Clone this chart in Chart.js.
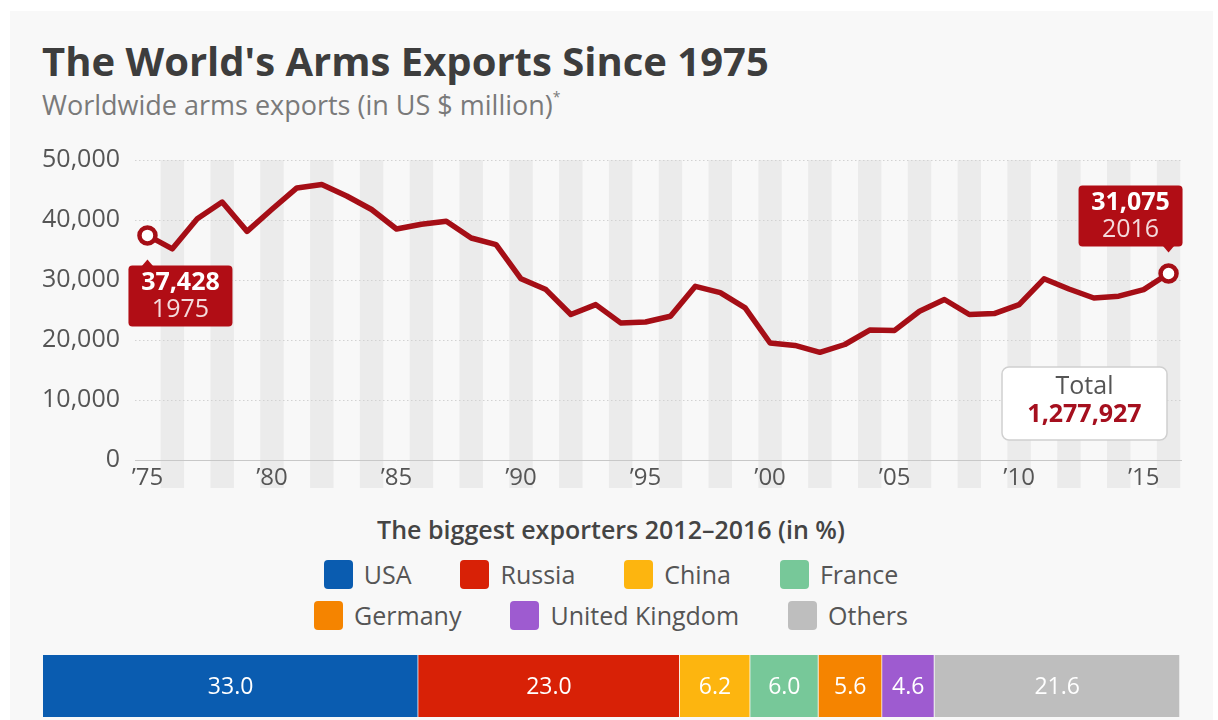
<!DOCTYPE html>
<html>
<head>
<meta charset="utf-8">
<title>The World's Arms Exports Since 1975</title>
<script src="https://cdn.jsdelivr.net/npm/chart.js@4.4.1/dist/chart.umd.min.js"></script>
<style>
  html, body { margin: 0; padding: 0; background: #fff; }
  body { width: 1218px; height: 720px; position: relative; overflow: hidden; font-family: "Open Sans", sans-serif; }
  .panel { position: absolute; left: 10px; top: 11px; width: 1203px; height: 720px; background: #f8f8f8; }
  .title { position: absolute; left: 42px; top: 41px; font-size: 40px; line-height: 1; font-weight: 700; color: #3d3d3d; white-space: nowrap; }
  .subtitle { position: absolute; left: 42px; top: 91px; font-size: 27px; line-height: 1; color: #7a7a7a; white-space: nowrap; }
  .subtitle sup { font-size: 14px; vertical-align: top; position: relative; top: -1px; }
  #trend { position: absolute; left: 0; top: 0; }
  .legend-title { position: absolute; left: 0; width: 1222px; top: 517px; text-align: center; font-size: 25px; line-height: 1; font-weight: 600; color: #444; }
  .legend-row { position: absolute; left: 0; width: 1222px; height: 29px; display: flex; justify-content: center; gap: 49px; }
  .legend-item { display: flex; align-items: center; font-size: 25px; line-height: 29px; color: #555; white-space: nowrap; }
  .swatch { width: 29px; height: 29px; border-radius: 4px; margin-right: 11px; }
  #shares { position: absolute; left: 0; top: 640px; }
</style>
</head>
<body>
<div class="panel"></div>
<div class="title">The World's Arms Exports Since 1975</div>
<div class="subtitle">Worldwide arms exports (in US $ million)<sup>*</sup></div>
<canvas id="trend" width="1218" height="500"></canvas>
<div class="legend-title">The biggest exporters 2012–2016 (in %)</div>
<div class="legend-row" id="legendRow1" style="top:560px"></div>
<div class="legend-row" id="legendRow2" style="top:601px"></div>
<canvas id="shares" width="1218" height="80"></canvas>

<script>
// yearly worldwide arms exports, US$ million
const years = [1975, 1976, 1977, 1978, 1979, 1980, 1981, 1982, 1983, 1984,
  1985, 1986, 1987, 1988, 1989, 1990, 1991, 1992, 1993, 1994,
  1995, 1996, 1997, 1998, 1999, 2000, 2001, 2002, 2003, 2004,
  2005, 2006, 2007, 2008, 2009, 2010, 2011, 2012, 2013, 2014,
  2015, 2016];
const armsExports = [37428, 35200, 40200, 43000, 38100, 41800, 45350, 45900, 44000, 41750,
  38500, 39300, 39800, 37000, 35900, 30200, 28400, 24250, 25900, 22850,
  23000, 23950, 28950, 27900, 25350, 19500, 19100, 17950, 19250, 21650,
  21600, 24800, 26750, 24250, 24400, 25900, 30200, 28500, 27000, 27300,
  28400, 31075];
const yTicks = [0, 10000, 20000, 30000, 40000, 50000];
const xTicks = [1975, 1980, 1985, 1990, 1995, 2000, 2005, 2010, 2015];
const totalExports = "1,277,927";

// shares of the biggest exporters 2012-2016, %
const exporters = ["USA", "Russia", "China", "France", "Germany", "United Kingdom", "Others"];
const exporterShares = [33.0, 23.0, 6.2, 6.0, 5.6, 4.6, 21.6];
const exporterColors = ["#0a5cb0", "#d82106", "#fdb50f", "#77c899", "#f58400", "#9e5bd0", "#bebebe"];

const RED = "#a50e16";
const BOX_RED = "#b10d15";
const fmt = v => v.toLocaleString("en-US");

Chart.defaults.font.family = '"Open Sans", sans-serif';
Chart.defaults.color = "#555";

// grey bands behind every second year
const stripes = {
  id: "stripes",
  beforeDraw(chart) {
    const { ctx, chartArea } = chart;
    const x = chart.scales.x;
    ctx.save();
    ctx.fillStyle = "#ebebeb";
    years.filter(y => y % 2 === 0).forEach(y => {
      const l = x.getPixelForValue(y - 0.47);
      const r = x.getPixelForValue(y + 0.47);
      ctx.fillRect(l, chartArea.top, r - l, chartArea.bottom + 28 - chartArea.top);
    });
    ctx.restore();
  }
};

function roundBox(ctx, x, y, w, h, r) {
  ctx.beginPath();
  ctx.roundRect(x, y, w, h, r);
}

function drawCallout(ctx, pt, dx, dy, up, value, year) {
  const w = 104, h = 61;
  const left = pt.x + dx, top = pt.y + dy;
  ctx.fillStyle = BOX_RED;
  roundBox(ctx, left, top, w, h, 4);
  ctx.fill();
  ctx.beginPath();
  if (up) {
    ctx.moveTo(pt.x - 6, top + 1);
    ctx.lineTo(pt.x, top - 6);
    ctx.lineTo(pt.x + 6, top + 1);
  } else {
    ctx.moveTo(pt.x - 6, top + h - 1);
    ctx.lineTo(pt.x, top + h + 6);
    ctx.lineTo(pt.x + 6, top + h - 1);
  }
  ctx.fill();
  const cx = left + w / 2;
  ctx.textAlign = "center";
  ctx.textBaseline = "middle";
  ctx.fillStyle = "#fff";
  ctx.font = '700 25px "Open Sans"';
  ctx.fillText(fmt(value), cx, top + 17);
  ctx.fillStyle = "rgba(255,255,255,0.85)";
  ctx.font = '400 25px "Open Sans"';
  ctx.fillText(String(year), cx, top + 44);
}

const callouts = {
  id: "callouts",
  afterDatasetsDraw(chart) {
    const { ctx, chartArea } = chart;
    const pts = chart.getDatasetMeta(0).data;
    const n = pts.length - 1;
    ctx.save();
    drawCallout(ctx, pts[0], -19, 30, true, armsExports[0], years[0]);
    drawCallout(ctx, pts[n], -90, -88, false, armsExports[n], years[n]);

    // total box
    const bx = chartArea.right - 179, by = chartArea.top + 207;
    ctx.fillStyle = "#fff";
    ctx.strokeStyle = "#d0d0d0";
    ctx.lineWidth = 1.5;
    roundBox(ctx, bx, by, 165, 73, 7);
    ctx.fill();
    ctx.stroke();
    ctx.textAlign = "center";
    ctx.textBaseline = "middle";
    ctx.fillStyle = "#555";
    ctx.font = '400 25px "Open Sans"';
    ctx.fillText("Total", bx + 82.5, by + 20);
    ctx.fillStyle = "#a50f1e";
    ctx.font = '700 25px "Open Sans"';
    ctx.fillText(totalExports, bx + 82.5, by + 48);
    ctx.restore();
  }
};

new Chart(document.getElementById("trend"), {
  type: "line",
  data: {
    datasets: [{
      data: years.map((y, i) => ({ x: y, y: armsExports[i] })),
      borderColor: RED,
      borderWidth: 5.5,
      borderJoinStyle: "round",
      borderCapStyle: "round",
      tension: 0,
      pointRadius: years.map((y, i) => (i === 0 || i === years.length - 1 ? 8 : 0)),
      pointBackgroundColor: "#fff",
      pointBorderColor: RED,
      pointBorderWidth: 4.5,
    }],
  },
  options: {
    responsive: false,
    animation: false,
    layout: { padding: { top: 160, right: 37, left: 0, bottom: 0 } },
    scales: {
      x: {
        type: "linear",
        min: 1974.5,
        max: 2016.5,
        afterBuildTicks: scale => { scale.ticks = xTicks.map(v => ({ value: v })); },
        afterFit: scale => { scale.height = 40; },
        grid: { display: false, drawTicks: false },
        border: { color: "#c8c8c8", width: 1 },
        ticks: {
          padding: 4,
          color: "#555",
          font: { size: 24 },
          maxRotation: 0,
          callback: v => "\u2019" + String(v).slice(2),
        },
      },
      y: {
        min: 0,
        max: 50000,
        afterBuildTicks: scale => { scale.ticks = yTicks.map(v => ({ value: v })); },
        afterFit: scale => { scale.width = 135; },
        grid: {
          drawTicks: false,
          color: ctx => (ctx.tick && ctx.tick.value === 0 ? "rgba(0,0,0,0)" : "#d2d2d2"),
        },
        border: { display: false, dash: [1.5, 2.5] },
        ticks: {
          padding: 15,
          color: "#555",
          font: { size: 25 },
          callback: v => fmt(v),
        },
      },
    },
    plugins: { legend: { display: false }, tooltip: { enabled: false } },
  },
  plugins: [stripes, callouts],
});

// legend for the share bar
function legendItem(i) {
  const item = document.createElement("div");
  item.className = "legend-item";
  const sw = document.createElement("span");
  sw.className = "swatch";
  sw.style.background = exporterColors[i];
  item.appendChild(sw);
  item.appendChild(document.createTextNode(exporters[i]));
  return item;
}
exporters.forEach((name, i) => {
  document.getElementById(i < 4 ? "legendRow1" : "legendRow2").appendChild(legendItem(i));
});

// value labels inside the stacked bar
const shareLabels = {
  id: "shareLabels",
  afterDatasetsDraw(chart) {
    const ctx = chart.ctx;
    ctx.save();
    ctx.fillStyle = "#fff";
    ctx.font = '400 23px "Open Sans"';
    ctx.textAlign = "center";
    ctx.textBaseline = "middle";
    chart.data.datasets.forEach((ds, i) => {
      const bar = chart.getDatasetMeta(i).data[0];
      const c = bar.getCenterPoint();
      ctx.fillText(ds.data[0].toFixed(1), c.x, c.y + 1);
    });
    ctx.restore();
  }
};

new Chart(document.getElementById("shares"), {
  type: "bar",
  data: {
    labels: ["2012–2016"],
    datasets: exporters.map((name, i) => ({
      label: name,
      data: [exporterShares[i]],
      backgroundColor: exporterColors[i],
      borderColor: "rgba(255,255,255,0.55)",
      borderWidth: { top: 0, right: 1, bottom: 0, left: 0 },
      barPercentage: 1,
      categoryPercentage: 1,
    })),
  },
  options: {
    indexAxis: "y",
    responsive: false,
    animation: false,
    layout: { padding: { left: 43, right: 38, top: 15, bottom: 3 } },
    scales: {
      x: { stacked: true, min: 0, max: 100, display: false },
      y: { stacked: true, display: false },
    },
    plugins: { legend: { display: false }, tooltip: { enabled: false } },
  },
  plugins: [shareLabels],
});
</script>
</body>
</html>
